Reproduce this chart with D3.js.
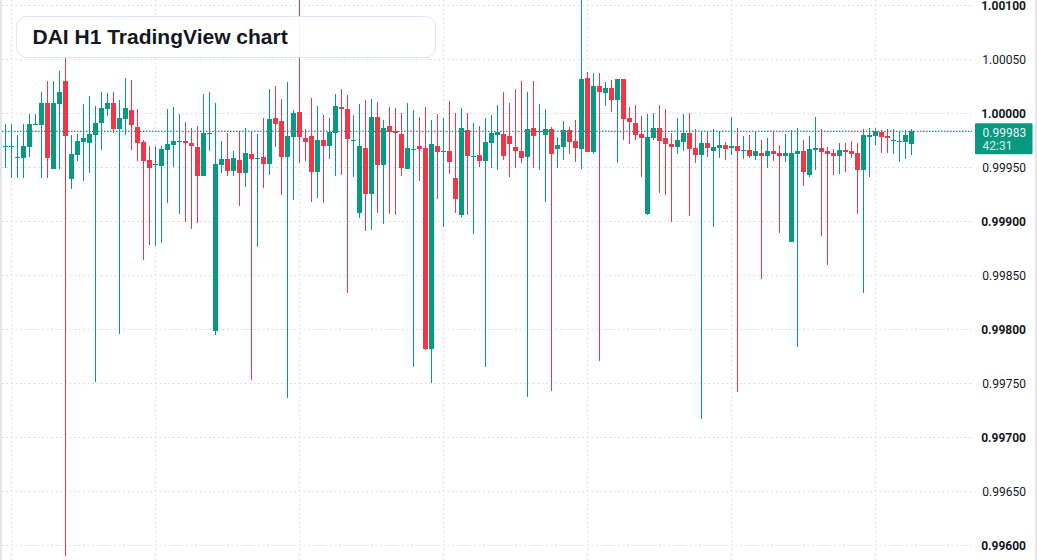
<!DOCTYPE html>
<html><head><meta charset="utf-8">
<script src="https://cdn.jsdelivr.net/npm/d3@7"></script>
<style>html,body{margin:0;padding:0;background:#fff;overflow:hidden}</style>
</head><body><svg id="c" width="1037" height="560"></svg>
<script>
const title = "DAI H1 TradingView chart";
const opens = [0.999694,0.999694,0.999590,0.999586,0.999688,0.999898,0.999892,1.000093,0.999484,1.000086,
1.000296,0.999392,0.999614,0.999731,0.999725,0.999799,0.999910,1.000040,1.000093,0.999855,
0.999947,1.000028,0.999870,0.999731,0.999565,0.999525,0.999509,0.999660,0.999706,0.999741,
0.999741,0.999722,0.999685,0.999419,0.999815,0.997984,0.999521,0.999574,0.999466,0.999565,
0.999447,0.999620,0.999581,0.999593,0.999531,0.999954,0.999926,0.999595,0.999781,1.000009,
0.999769,0.999787,0.999456,0.999750,0.999697,0.999818,1.000056,1.000037,0.999750,0.999077,
0.999676,0.999253,0.999963,0.999521,0.999880,0.999833,0.999806,0.999484,0.999669,0.999694,
0.999676,0.997818,0.999694,0.999648,0.999648,0.999401,0.999058,0.999843,0.999605,0.999611,
0.999558,0.999725,0.999799,0.999806,0.999787,0.999685,0.999648,0.999595,0.999861,0.999821,
0.999799,0.999852,0.999669,0.999688,0.999843,0.999741,0.999669,1.000324,0.999642,1.000250,
1.000188,1.000231,1.000123,1.000315,0.999954,0.999907,0.999806,0.999068,0.999771,0.999861,
0.999769,0.999713,0.999688,0.999734,0.999815,0.999676,0.999614,0.999722,0.999651,0.999679,
0.999704,0.999679,0.999694,0.999657,0.999657,0.999605,0.999630,0.999605,0.999648,0.999630,
0.999605,0.998808,0.999623,0.999648,0.999429,0.999660,0.999676,0.999648,0.999630,0.999605,
0.999657,0.999648,0.999630,0.999475,0.999781,0.999787,0.999824,0.999787,0.999750,0.999741,
0.999734,0.999716];
const highs = [0.999898,0.999898,0.999796,0.999898,0.999991,0.999991,1.000194,1.000296,1.000296,1.000389,
1.000509,0.999796,0.999806,1.000083,1.000157,1.000065,1.000194,1.000185,1.000194,1.000120,
1.000324,1.000306,1.000037,0.999750,0.999694,0.999694,0.999694,1.000037,1.000056,0.999991,
0.999917,0.999861,0.999880,1.000176,1.000194,1.000093,0.999741,0.999815,0.999648,0.999824,
0.999861,0.999833,0.999806,0.999954,1.000222,1.000250,1.000130,1.000287,1.000028,1.001100,
0.999852,1.000139,1.000065,0.999981,0.999954,1.000176,1.000222,1.000167,0.999981,1.000083,
1.000120,1.000130,1.000102,0.999935,1.000056,1.000046,1.000000,1.000093,1.000028,0.999963,
1.000056,0.999935,0.999991,0.999954,1.000111,1.000000,1.000046,1.000000,0.999907,0.999880,
0.999954,0.999981,1.000074,1.000194,1.000093,1.000222,1.000296,1.000194,1.000296,1.000083,
1.000037,0.999870,0.999778,0.999926,0.999870,0.999935,1.001100,1.000380,1.000370,1.000370,
1.000287,1.000306,1.000315,1.000315,1.000056,1.000074,0.999972,0.999991,1.000000,1.000074,
1.000037,0.999815,0.999954,0.999991,1.000000,0.999852,0.999833,0.999824,0.999852,0.999824,
0.999731,0.999963,0.999861,0.999787,0.999796,0.999824,0.999750,0.999769,0.999833,0.999704,
0.999806,0.999843,0.999861,0.999750,0.999787,0.999963,0.999852,0.999685,0.999667,0.999722,
0.999722,0.999741,0.999722,0.999852,0.999861,0.999861,0.999843,0.999852,0.999852,0.999833,
0.999843,0.999852];
const lows = [0.999494,0.999398,0.999398,0.999398,0.999595,0.999898,0.999398,0.999398,0.999484,0.999484,
0.995898,0.999299,0.999558,0.999373,0.999447,0.997512,0.999660,0.999975,0.999818,0.997956,
0.999799,0.999660,0.999558,0.998642,0.998780,0.998771,0.998799,0.999169,0.999503,0.999068,
0.998994,0.998929,0.998984,0.999419,0.999651,0.997947,0.999447,0.999419,0.999419,0.999142,
0.999318,0.997528,0.998762,0.999308,0.999429,0.999688,0.999244,0.997364,0.999197,0.999540,
0.999558,0.999179,0.999216,0.999169,0.999577,0.999419,0.999429,0.998336,0.999410,0.999031,
0.998910,0.998919,0.999077,0.998975,0.999068,0.999058,0.999419,0.999484,0.997651,0.999373,
0.997808,0.997497,0.999206,0.998947,0.999438,0.999077,0.999040,0.999058,0.998882,0.999503,
0.997651,0.999494,0.999475,0.999568,0.999410,0.999494,0.999540,0.997373,0.999494,0.999475,
0.999179,0.997429,0.999494,0.999568,0.999623,0.999549,0.999484,0.999642,0.999623,0.997704,
1.000068,1.000012,0.999540,0.999753,0.999716,0.999753,0.999410,0.999058,0.999753,0.999262,
0.999244,0.998994,0.999623,0.999651,0.999049,0.999540,0.997169,0.999595,0.998947,0.999586,
0.999568,0.999614,0.997419,0.999577,0.999586,0.999568,0.998466,0.999494,0.999558,0.998892,
0.999549,0.998808,0.997836,0.999327,0.999410,0.999475,0.998864,0.998595,0.999429,0.999438,
0.999456,0.999586,0.999068,0.998336,0.999410,0.999706,0.999632,0.999632,0.999623,0.999549,
0.999577,0.999614];
const closes = [0.999694,0.999694,0.999590,0.999694,0.999898,0.999898,1.000093,0.999586,1.000093,1.000194,
0.999790,0.999620,0.999741,0.999769,0.999806,0.999907,1.000046,1.000093,0.999855,0.999954,
1.000046,0.999892,0.999725,0.999558,0.999494,0.999525,0.999667,0.999713,0.999741,0.999741,
0.999725,0.999694,0.999419,0.999818,0.999815,0.999528,0.999574,0.999466,0.999583,0.999447,
0.999630,0.999577,0.999581,0.999531,0.999944,0.999901,0.999595,0.999787,1.000000,0.999781,
0.999731,0.999456,0.999750,0.999697,0.999824,1.000065,1.000037,0.999762,0.999750,0.999694,
0.999253,0.999963,0.999521,0.999861,0.999827,0.999818,0.999494,0.999676,0.999669,0.999669,
0.997818,0.999713,0.999642,0.999648,0.999549,0.999206,0.999861,0.999605,0.999605,0.999558,
0.999731,0.999815,0.999824,0.999605,0.999716,0.999651,0.999586,0.999852,0.999790,0.999833,
0.999852,0.999623,0.999704,0.999843,0.999734,0.999679,1.000315,0.999642,1.000250,1.000197,
1.000231,1.000123,1.000315,0.999947,0.999919,0.999799,0.999771,0.999778,0.999861,0.999744,
0.999716,0.999688,0.999750,0.999815,0.999669,0.999614,0.999722,0.999679,0.999685,0.999704,
0.999669,0.999694,0.999651,0.999657,0.999605,0.999648,0.999605,0.999648,0.999623,0.999605,
0.999630,0.999630,0.999648,0.999456,0.999667,0.999676,0.999642,0.999623,0.999605,0.999657,
0.999642,0.999623,0.999475,0.999796,0.999796,0.999833,0.999781,0.999771,0.999750,0.999741,
0.999796,0.999830];
const priceTicks = [1.001, 1.0005, 1.0, 0.9995, 0.999, 0.9985, 0.998, 0.9975, 0.997, 0.9965, 0.996];
const boldTicks = [1.001, 1.0, 0.999, 0.998, 0.997, 0.996];
const dayStartIndex = [1, 25, 49, 73, 97, 121, 145];
const lastPrice = 0.99983;
const countdown = "42:31";

const UP = "#089981", DOWN = "#f23645";
const W = 1037, H = 560, plotRight = 972;
const svg = d3.select("#c");
const n = opens.length;
const candles = d3.range(n).map(i => ({i, o: opens[i], h: highs[i], l: lows[i], c: closes[i]}));

const x = d3.scaleLinear().domain([0, n - 1]).range([5.5, 5.5 + 6 * (n - 1)]);
const y = d3.scaleLinear().domain([0.996, 1.001]).range([545, 5]);

// borders
svg.append("rect").attr("x", 0).attr("y", 0).attr("width", 2).attr("height", H).attr("fill", "#e6e6e6");
svg.append("rect").attr("x", W - 2).attr("y", 0).attr("width", 2).attr("height", H).attr("fill", "#e6e6e6");

// grid
const grid = svg.append("g").attr("stroke", "#d4d4d4").attr("stroke-width", 1).attr("stroke-dasharray", "1.5 3");
grid.selectAll("line.h").data(priceTicks).join("line").attr("class", "h")
  .attr("x1", 2).attr("x2", plotRight).attr("y1", d => Math.round(y(d)) + 0.5).attr("y2", d => Math.round(y(d)) + 0.5);
grid.selectAll("line.v").data(dayStartIndex).join("line").attr("class", "v")
  .attr("x1", d => x(d)).attr("x2", d => x(d)).attr("y1", 0).attr("y2", H);

// candles
const g = svg.append("g");
const col = d => d.c >= d.o ? UP : DOWN;
g.selectAll("line.w").data(candles).join("line").attr("class", "w")
  .attr("x1", d => x(d.i)).attr("x2", d => x(d.i))
  .attr("y1", d => Math.round(y(d.h))).attr("y2", d => Math.round(y(d.l)))
  .attr("stroke", col).attr("stroke-width", 1);
g.selectAll("rect.b").data(candles).join("rect").attr("class", "b")
  .attr("x", d => x(d.i) - 2.5).attr("width", 5)
  .attr("y", d => Math.round(y(Math.max(d.o, d.c))))
  .attr("height", d => Math.max(1, Math.round(y(Math.min(d.o, d.c))) - Math.round(y(Math.max(d.o, d.c)))))
  .attr("fill", col);

// last price line
svg.append("line").attr("x1", 2).attr("x2", plotRight).attr("y1", y(lastPrice)).attr("y2", y(lastPrice))
  .attr("stroke", UP).attr("stroke-width", 1.3).attr("stroke-dasharray", "1.5 1.5");

// axis
const axis = d3.axisRight(y).tickValues(priceTicks).tickFormat(d3.format(".5f")).tickSize(0).tickPadding(0);
const ag = svg.append("g").attr("transform", `translate(1026,0)`).call(axis);
ag.select(".domain").remove();
ag.selectAll("text").attr("text-anchor", "end").attr("x", 0).attr("dy", "0.37em")
  .style("font-family", "Roboto, 'Liberation Sans', sans-serif").style("font-size", "12px")
  .attr("fill", "#131722")
  .style("font-weight", d => boldTicks.some(b => Math.abs(b - d) < 1e-9) ? 700 : 400);

// price label
const ly = y(lastPrice);
svg.append("rect").attr("x", 975).attr("y", ly - 8.2).attr("width", 57.5).attr("height", 31).attr("rx", 1).attr("fill", UP);
svg.append("text").attr("x", 982.5).attr("y", ly + 6).text(d3.format(".5f")(lastPrice))
  .style("font-family", "Roboto, sans-serif").style("font-size", "12px").attr("fill", "rgba(255,255,255,0.92)");
svg.append("text").attr("x", 982.5).attr("y", ly + 19).text(countdown)
  .style("font-family", "Roboto, sans-serif").style("font-size", "12px").attr("fill", "rgba(255,255,255,0.85)");

// title
svg.append("rect").attr("x", 16.5).attr("y", 16.5).attr("width", 419).attr("height", 41).attr("rx", 10)
  .attr("fill", "rgba(255,255,255,0.93)").attr("stroke", "#dbe6f7").attr("stroke-width", 1);
svg.append("text").attr("x", 32.5).attr("y", 44.3).text(title)
  .style("font-family", "'Liberation Sans', Arial, sans-serif").style("font-size", "21px").style("font-weight", 700)
  .attr("fill", "#131722");
</script></body></html>
